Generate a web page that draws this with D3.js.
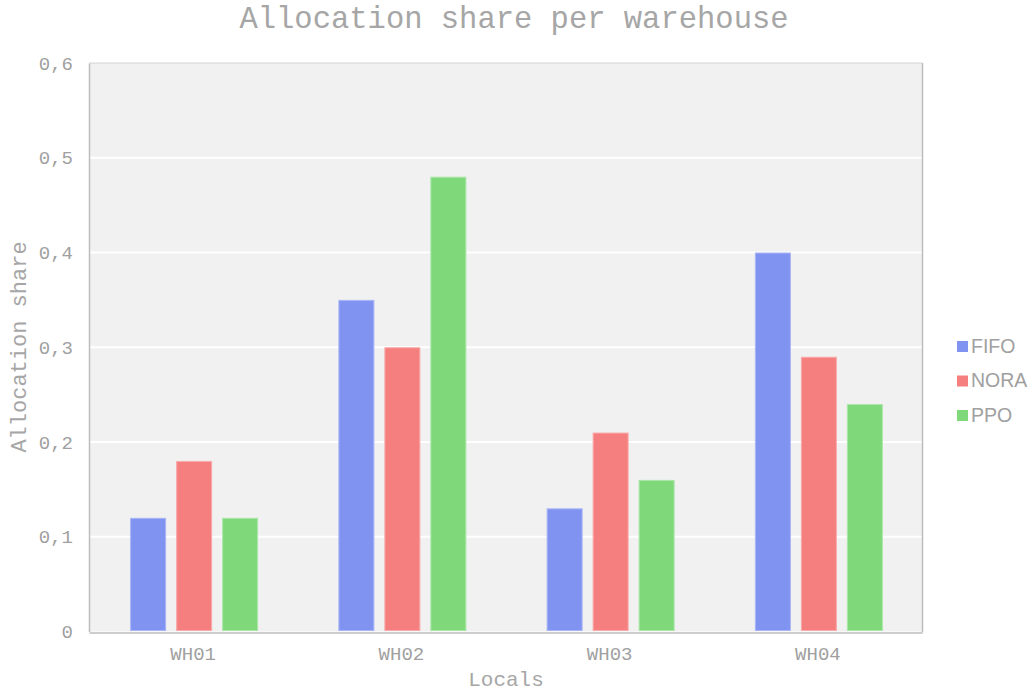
<!DOCTYPE html>
<html>
<head>
<meta charset="utf-8">
<script src="https://cdn.jsdelivr.net/npm/d3@7"></script>
<style>
  html, body { margin: 0; padding: 0; background: #fff; }
  svg { display: block; }
</style>
</head>
<body>
<svg id="chart" width="1033" height="693"></svg>
<script>
// Warehouses and allocation shares per policy
const categories = ["WH01", "WH02", "WH03", "WH04"];
const seriesNames = ["FIFO", "NORA", "PPO"];
const fifo = [0.12, 0.35, 0.13, 0.40];
const nora = [0.18, 0.30, 0.21, 0.29];
const ppo  = [0.12, 0.48, 0.16, 0.24];
const yTicks = [0, 0.1, 0.2, 0.3, 0.4, 0.5, 0.6];
const colors = ["#8193f1", "#f57f7f", "#7fd97b"];
const strokes = ["#a9b5f6", "#f9abab", "#aae6a7"];

const seriesValues = [fifo, nora, ppo];

const svg = d3.select("#chart");
const plotL = 89, plotR = 922, plotT = 63, plotB = 631.5;
const mono = "'Liberation Mono', 'Courier New', monospace";

const x = d3.scaleBand().domain(categories).range([plotL, plotR]).paddingInner(0).paddingOuter(0);
const y = d3.scaleLinear().domain([0, 0.6]).range([plotB, plotT]);
const barW = 36, gap = 10;
const xs = d3.scaleBand().domain(seriesNames).range([0, 3 * barW + 2 * gap]).paddingInner(gap / (barW + gap)).paddingOuter(0);

const fmt = v => v === 0 ? "0" : d3.format(".1f")(v).replace(".", ",");

// plot background
svg.append("rect").attr("x", plotL).attr("y", plotT)
  .attr("width", plotR - plotL).attr("height", plotB - plotT)
  .attr("fill", "#f1f1f1");

// gridlines
svg.append("g").selectAll("line").data(yTicks.filter(t => t > 0 && t < 0.6)).join("line")
  .attr("x1", plotL).attr("x2", plotR)
  .attr("y1", d => y(d)).attr("y2", d => y(d))
  .attr("stroke", "#ffffff").attr("stroke-width", 2);

// frame: top and right in light gray
svg.append("line").attr("x1", plotL).attr("x2", plotR).attr("y1", plotT).attr("y2", plotT)
  .attr("stroke", "#d4d4d4").attr("stroke-width", 1);
svg.append("line").attr("x1", plotR + 0.5).attr("x2", plotR + 0.5).attr("y1", plotT).attr("y2", plotB + 1)
  .attr("stroke", "#bdbdbd").attr("stroke-width", 1.5);

// bars
const groups = svg.append("g").selectAll("g").data(categories).join("g")
  .attr("transform", c => `translate(${x(c) + x.bandwidth() / 2 - xs.range()[1] / 2 + 1},0)`);
groups.each(function (c, ci) {
  d3.select(this).selectAll("rect").data(seriesNames).join("rect")
    .attr("x", s => xs(s) + 0.5)
    .attr("width", barW - 1)
    .attr("y", (s, si) => y(seriesValues[si][ci]) + 0.5)
    .attr("height", (s, si) => plotB - 1.5 - y(seriesValues[si][ci]))
    .attr("fill", (s, si) => colors[si])
    .attr("stroke", (s, si) => strokes[si])
    .attr("stroke-width", 1);
});

// axes
const yAxis = d3.axisLeft(y).tickValues(yTicks).tickFormat(fmt).tickSize(0).tickPadding(16);
const gy = svg.append("g").attr("transform", `translate(${plotL},0)`).call(yAxis);
gy.select(".domain").attr("stroke", "#bdbdbd").attr("stroke-width", 1.5);
gy.selectAll("text").attr("fill", "#a0a0a0").attr("font-family", mono)
  .attr("font-size", 19).attr("dy", "0.32em");

const xAxis = d3.axisBottom(x).tickSize(0).tickPadding(14);
const gx = svg.append("g").attr("transform", `translate(0,${plotB + 1})`).call(xAxis);
gx.select(".domain").attr("stroke", "#bdbdbd").attr("stroke-width", 1.5);
gx.selectAll("text").attr("fill", "#a0a0a0").attr("font-family", mono)
  .attr("font-size", 19);

// titles
svg.append("text").attr("x", 514).attr("y", 28).attr("text-anchor", "middle")
  .attr("fill", "#a6a6a6").attr("font-family", mono).attr("font-size", 30.5)
  .text("Allocation share per warehouse");
svg.append("text").attr("x", 506).attr("y", 686).attr("text-anchor", "middle")
  .attr("fill", "#a6a6a6").attr("font-family", mono).attr("font-size", 21)
  .text("Locals");
svg.append("text").attr("transform", "translate(26,347) rotate(-90)").attr("text-anchor", "middle")
  .attr("fill", "#a6a6a6").attr("font-family", mono).attr("font-size", 22)
  .text("Allocation share");

// legend
const legend = svg.append("g").selectAll("g").data(seriesNames).join("g")
  .attr("transform", (d, i) => `translate(957,${346 + i * 34.5})`);
legend.append("rect").attr("x", 0).attr("y", -5).attr("width", 11).attr("height", 11)
  .attr("fill", (d, i) => colors[i]);
legend.append("text").attr("x", 14).attr("y", 0).attr("dy", "0.35em")
  .attr("fill", "#a0a0a0").attr("font-family", "'Liberation Sans', Arial, sans-serif").attr("font-size", 19.5)
  .text(d => d);
</script>
</body>
</html>
